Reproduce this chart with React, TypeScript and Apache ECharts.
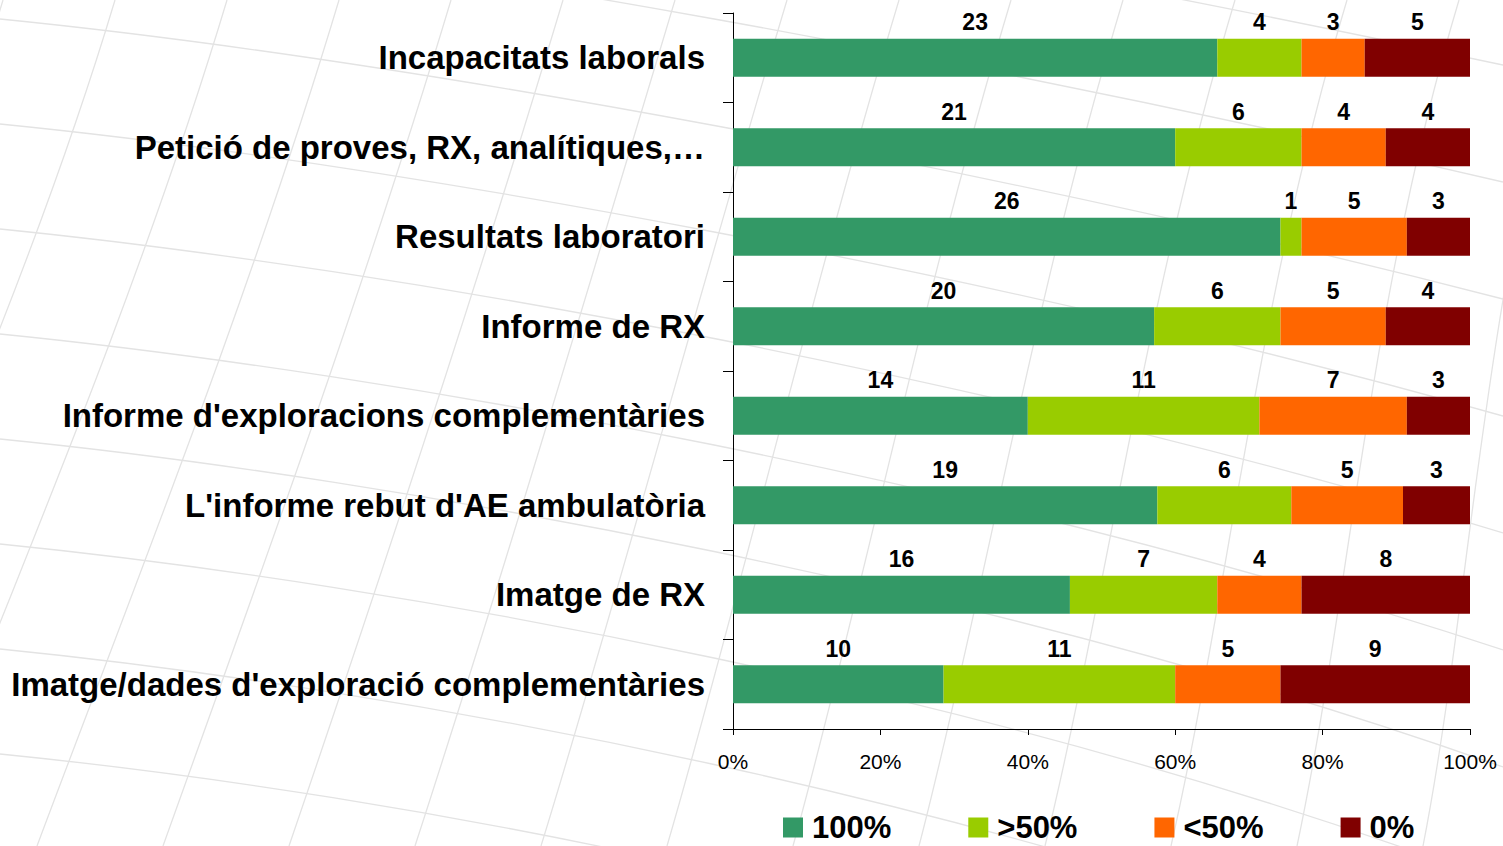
import React, { useEffect, useRef } from "react";
import * as echarts from "echarts";

const categories = [
  "Incapacitats laborals",
  "Petició de proves, RX, analítiques,…",
  "Resultats laboratori",
  "Informe de RX",
  "Informe d'exploracions complementàries",
  "L'informe rebut d'AE ambulatòria",
  "Imatge de RX",
  "Imatge/dades d'exploració complementàries",
];
const seriesNames = ["100%", ">50%", "<50%", "0%"];
const full = [23, 21, 26, 20, 14, 19, 16, 10];
const over50 = [4, 6, 1, 6, 11, 6, 7, 11];
const under50 = [3, 4, 5, 5, 7, 5, 4, 5];
const zero = [5, 4, 3, 4, 3, 3, 8, 9];
const xTicks = [0, 20, 40, 60, 80, 100];

const colors = ["#339966", "#99CC00", "#FF6600", "#800000"];
const FONT = "'Liberation Sans', Arial, sans-serif";

// faint decorative globe-like grid in the background
function backgroundLines() {
  const els: any[] = [];
  const style = { stroke: "#e3e3e3", lineWidth: 1.3, fill: "none" };
  for (let k = -2; k < 15; k++) {
    const x0 = 115 + 112 * k;
    els.push({
      type: "bezierCurve",
      silent: true,
      z: -10,
      shape: {
        x1: x0, y1: 0,
        x2: x0 - 330 + k * 14, y2: 846,
        cpx1: x0 - 90, cpy1: 300,
        cpx2: x0 - 230 + k * 10, cpy2: 600,
      },
      style,
    });
  }
  for (let k = -4; k < 10; k++) {
    const y0 = 19 + 105 * k;
    els.push({
      type: "bezierCurve",
      silent: true,
      z: -10,
      shape: {
        x1: 0, y1: y0,
        x2: 1503, y2: y0 + 280 + k * 12,
        cpx1: 400, cpy1: y0 + 40,
        cpx2: 1000, cpy2: y0 + 150,
      },
      style,
    });
  }
  return els;
}

export default function App() {
  const ref = useRef<HTMLDivElement>(null);
  useEffect(() => {
    if (!ref.current) return;
    const chart = echarts.init(ref.current, null, { renderer: "svg" });
    const counts = [full, over50, under50, zero];
    const totals = categories.map((_, i) => counts.reduce((s, a) => s + a[i], 0));
    const series = counts.map((arr, si) => ({
      name: seriesNames[si],
      type: "bar",
      stack: "total",
      barWidth: 38,
      z: 5,
      itemStyle: { color: colors[si] },
      label: {
        show: true,
        position: "top",
        distance: 5,
        fontFamily: FONT,
        fontSize: 23,
        fontWeight: "bold",
        color: "#000",
        formatter: (p: any) => String(arr[p.dataIndex]),
      },
      data: arr.map((v, i) => (v / totals[i]) * 100),
    }));
    chart.setOption({
      animation: false,
      backgroundColor: "#ffffff",
      graphic: { elements: backgroundLines() },
      grid: { left: 733, right: 33, top: 13, bottom: 117, containLabel: false },
      xAxis: {
        type: "value",
        min: xTicks[0],
        max: xTicks[xTicks.length - 1],
        interval: 20,
        splitLine: { show: false },
        axisLine: { show: true, lineStyle: { color: "#000", width: 1 } },
        axisTick: { show: true, length: 6, lineStyle: { color: "#000" } },
        axisLabel: {
          fontFamily: FONT,
          fontSize: 21,
          color: "#000",
          margin: 22,
          formatter: (v: number) => v + "%",
        },
      },
      yAxis: {
        type: "category",
        inverse: true,
        data: categories,
        axisLine: { show: true, lineStyle: { color: "#000", width: 1 } },
        axisTick: { show: true, length: 10, lineStyle: { color: "#000" } },
        axisLabel: {
          fontFamily: FONT,
          fontSize: 33,
          fontWeight: "bold",
          color: "#000",
          margin: 28,
        },
      },
      legend: {
        data: seriesNames,
        left: 778,
        top: 807,
        icon: "rect",
        itemWidth: 20,
        itemHeight: 20,
        itemGap: 77,
        textStyle: {
          fontFamily: FONT,
          fontSize: 31,
          lineHeight: 31,
          fontWeight: "bold",
          color: "#000",
          padding: [0, 0, 0, 4],
        },
      },
      series,
    });
    return () => chart.dispose();
  }, []);
  return (
    <div
      ref={ref}
      style={{ position: "fixed", left: 0, top: 0, width: 1503, height: 846 }}
    />
  );
}
